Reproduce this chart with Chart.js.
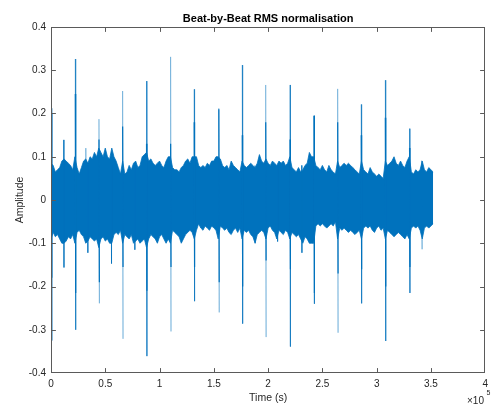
<!DOCTYPE html>
<html>
<head>
<meta charset="utf-8">
<script src="https://cdn.jsdelivr.net/npm/chart.js@4.4.1/dist/chart.umd.min.js"></script>
<style>
  html, body { margin: 0; padding: 0; background: #ffffff; }
  #wrap { width: 493px; height: 405px; position: relative; }
</style>
</head>
<body>
<div id="wrap"><canvas id="c" width="493" height="405"></canvas></div>
<script>
// ---- data ----
const chartTitle = 'Beat-by-Beat RMS normalisation';
const sampleStep = 2000; // samples between envelope points
const upperEnvelope = [
  0.085,0.08,0.065,0.07,0.075,0.09,0.095,0.09,0.085,0.08,
  0.07,0.1,0.075,0.06,0.075,0.09,0.095,0.085,0.1,0.095,
  0.11,0.1,0.12,0.11,0.1,0.12,0.1,0.095,0.12,0.1,
  0.09,0.075,0.06,0.09,0.06,0.065,0.08,0.07,0.085,0.09,
  0.075,0.08,0.1,0.105,0.11,0.09,0.095,0.085,0.08,0.085,
  0.09,0.08,0.075,0.09,0.1,0.1,0.075,0.07,0.07,0.065,
  0.075,0.08,0.09,0.095,0.085,0.1,0.1,0.1,0.08,0.075,
  0.08,0.075,0.085,0.08,0.09,0.09,0.1,0.1,0.095,0.08,
  0.075,0.08,0.07,0.09,0.08,0.075,0.07,0.065,0.09,0.08,
  0.075,0.08,0.085,0.08,0.075,0.085,0.105,0.09,0.085,0.095,
  0.085,0.08,0.09,0.085,0.08,0.09,0.085,0.09,0.08,0.085,
  0.1,0.075,0.07,0.065,0.075,0.065,0.07,0.08,0.085,0.11,
  0.1,0.1,0.08,0.075,0.07,0.08,0.07,0.065,0.08,0.07,
  0.065,0.06,0.09,0.075,0.08,0.085,0.08,0.085,0.08,0.075,
  0.07,0.065,0.06,0.09,0.07,0.065,0.06,0.075,0.065,0.06,
  0.055,0.06,0.055,0.05,0.09,0.08,0.085,0.09,0.1,0.085,
  0.08,0.09,0.08,0.075,0.09,0.1,0.065,0.06,0.07,0.065,
  0.07,0.09,0.07,0.065,0.075,0.07,0.065
];
const lowerEnvelope = [
  -0.09,-0.075,-0.085,-0.08,-0.09,-0.1,-0.1,-0.095,-0.085,-0.09,
  -0.08,-0.1,-0.075,-0.07,-0.08,-0.085,-0.1,-0.095,-0.085,-0.09,
  -0.095,-0.09,-0.11,-0.09,-0.085,-0.095,-0.09,-0.1,-0.1,-0.08,
  -0.075,-0.08,-0.07,-0.1,-0.08,-0.085,-0.09,-0.08,-0.1,-0.095,
  -0.09,-0.1,-0.095,-0.09,-0.11,-0.09,-0.08,-0.085,-0.09,-0.1,
  -0.085,-0.08,-0.09,-0.1,-0.09,-0.1,-0.07,-0.075,-0.08,-0.085,
  -0.1,-0.09,-0.08,-0.075,-0.07,-0.075,-0.09,-0.07,-0.055,-0.065,
  -0.07,-0.06,-0.065,-0.07,-0.06,-0.065,-0.07,-0.09,-0.06,-0.065,
  -0.07,-0.065,-0.075,-0.08,-0.07,-0.065,-0.075,-0.065,-0.09,-0.07,
  -0.075,-0.07,-0.08,-0.085,-0.1,-0.08,-0.075,-0.07,-0.075,-0.09,
  -0.065,-0.06,-0.07,-0.075,-0.09,-0.07,-0.075,-0.08,-0.07,-0.075,
  -0.09,-0.075,-0.08,-0.085,-0.08,-0.09,-0.1,-0.085,-0.09,-0.1,
  -0.1,-0.1,-0.06,-0.055,-0.06,-0.055,-0.06,-0.065,-0.06,-0.055,
  -0.06,-0.05,-0.09,-0.065,-0.07,-0.065,-0.07,-0.075,-0.07,-0.075,
  -0.08,-0.075,-0.07,-0.09,-0.065,-0.06,-0.065,-0.06,-0.07,-0.075,
  -0.065,-0.06,-0.07,-0.065,-0.09,-0.07,-0.075,-0.08,-0.085,-0.08,
  -0.075,-0.08,-0.085,-0.09,-0.08,-0.09,-0.065,-0.06,-0.065,-0.06,
  -0.07,-0.09,-0.065,-0.06,-0.065,-0.06,-0.055
];
// beat spikes
const spikeTimes = [400,22400,44200,66000,88000,110200,131900,154600,176200,197800,220200,242300,264100,285800,308000,330300];
const spikeUp    = [0.212,0.326,0.187,0.252,0.275,0.331,0.256,0.212,0.312,0.266,0.266,0.195,0.257,0.221,0.277,0.165];
const spikeDown  = [-0.325,-0.30,-0.239,-0.321,-0.361,-0.304,-0.234,-0.26,-0.286,-0.317,-0.339,-0.240,-0.307,-0.239,-0.326,-0.215];
const spikeCoreUp   = [0.2,0.245,0.14,0.17,0.13,0.13,0.18,0.21,0.15,0.18,0.14,0.195,0.18,0.15,0.19,0.12];
const spikeCoreDown = [-0.18,-0.215,-0.19,-0.155,-0.21,-0.155,-0.155,-0.19,-0.2,-0.14,-0.16,-0.215,-0.17,-0.16,-0.2,-0.155];
// smaller isolated peaks
const minorTimes = [11600,32100,33600,55400,76900,187800,208400,230800,341500];
const minorUp    = [0.139,0.12,0.08,0.08,0.08,0.08,0.08,0.08,0.091];
const minorDown  = [-0.156,-0.09,-0.122,-0.147,-0.115,-0.10,-0.096,-0.122,-0.114];

const xTicks = [0,50000,100000,150000,200000,250000,300000,350000,400000];
const yTicks = [-0.4,-0.3,-0.2,-0.1,0,0.1,0.2,0.3,0.4];

// ---- build datasets ----
const BLUE = '#0072BD';
const FONT = '"Liberation Sans", Arial, sans-serif';
const upperPts = upperEnvelope.map((v,k)=>({x:k*sampleStep, y:v}));
const lowerPts = lowerEnvelope.map((v,k)=>({x:k*sampleStep, y:v}));
function spikePts(times, ups, downs){
  const out = [];
  times.forEach((t,i)=>{
    out.push({x:t, y:ups[i]});
    out.push({x:t+350, y:downs[i]});
    out.push({x:t+351, y:null});
  });
  return out;
}

const ctxEl = document.getElementById('c');

const boxPlugin = {
  id: 'matlabBox',
  afterDraw(chart){
    const {ctx, chartArea:a, scales} = chart;
    ctx.save();
    ctx.strokeStyle = '#5a5a5a';
    ctx.lineWidth = 1;
    const L = Math.round(a.left)+0.5, R = Math.round(a.right)-0.5, T = Math.round(a.top)+0.5, B = Math.round(a.bottom)-0.5;
    ctx.strokeRect(L, T, R-L, B-T);
    const tl = 4.4;
    ctx.beginPath();
    xTicks.forEach(v=>{
      let px = Math.round(scales.x.getPixelForValue(v))+0.5;
      if (px > R) px = R;
      ctx.moveTo(px, B); ctx.lineTo(px, B-tl);
      ctx.moveTo(px, T); ctx.lineTo(px, T+tl);
    });
    yTicks.forEach(v=>{
      let py = Math.round(scales.y.getPixelForValue(v))+0.5;
      if (py > B) py = B;
      ctx.moveTo(L, py); ctx.lineTo(L+tl, py);
      ctx.moveTo(R, py); ctx.lineTo(R-tl, py);
    });
    ctx.stroke();
    // title, centred over the axes box
    ctx.fillStyle = '#000000';
    ctx.textAlign = 'center';
    ctx.textBaseline = 'middle';
    ctx.font = 'bold 11px ' + FONT;
    ctx.fillText(chartTitle, (a.left + a.right) / 2, 18.5);
    // exponent label
    ctx.fillStyle = '#262626';
    ctx.textBaseline = 'alphabetic';
    ctx.textAlign = 'left';
    ctx.font = '10px ' + FONT;
    ctx.fillText('\u00d710', 467, 404);
    ctx.font = '7px ' + FONT;
    ctx.fillText('5', 486.5, 395);
    ctx.restore();
  }
};

new Chart(ctxEl, {
  type: 'line',
  data: {
    datasets: [
      { label:'core spikes', data: spikePts(spikeTimes, spikeCoreUp, spikeCoreDown), borderColor: BLUE, borderWidth: 1.2, pointRadius: 0, fill: false, spanGaps: false, tension: 0 },
      { label:'spikes', data: spikePts(spikeTimes, spikeUp, spikeDown), borderColor: 'rgba(0,114,189,0.6)', borderWidth: 1, pointRadius: 0, fill: false, spanGaps: false, tension: 0 },
      { label:'minor', data: spikePts(minorTimes, minorUp, minorDown), borderColor: 'rgba(0,114,189,0.7)', borderWidth: 1, pointRadius: 0, fill: false, spanGaps: false, tension: 0 },
      { label:'upper', data: upperPts, borderColor: BLUE, borderWidth: 0.8, backgroundColor: BLUE, pointRadius: 0, fill: '+1', tension: 0 },
      { label:'lower', data: lowerPts, borderColor: BLUE, borderWidth: 0.8, pointRadius: 0, fill: false, tension: 0 }
    ]
  },
  options: {
    responsive: false,
    animation: false,
    events: [],
    layout: { padding: { top: 27, right: 1.5, left: 0, bottom: 0 } },
    plugins: {
      legend: { display: false },
      tooltip: { enabled: false },
      title: { display: false }
    },
    scales: {
      x: {
        type: 'linear', min: 0, max: 400000,
        grid: { display: false, drawTicks: false }, border: { display: false },
        afterFit(s){ s.height = 32; },
        afterBuildTicks(s){ s.ticks = xTicks.map(v=>({value:v})); },
        ticks: {
          autoSkip: false, maxRotation: 0, padding: 5, color: '#262626',
          font: { family: FONT, size: 10 },
          callback: v => String(Math.round(v/1e4)/10)
        },
        title: { display: true, text: 'Time (s)', color: '#262626', padding: { top: 0, bottom: 1 },
          font: { family: FONT, size: 10.5 } }
      },
      y: {
        type: 'linear', min: -0.4, max: 0.4,
        grid: { display: false, drawTicks: false }, border: { display: false },
        afterFit(s){ s.width = 51; },
        afterBuildTicks(s){ s.ticks = yTicks.map(v=>({value:v})); },
        ticks: {
          autoSkip: false, padding: 5, color: '#262626',
          font: { family: FONT, size: 10 },
          callback: v => String(Math.round(v*10)/10)
        },
        title: { display: true, text: 'Amplitude', color: '#262626', padding: { top: 14, bottom: 0 },
          font: { family: FONT, size: 10.5 } }
      }
    }
  },
  plugins: [boxPlugin]
});
</script>
</body>
</html>
